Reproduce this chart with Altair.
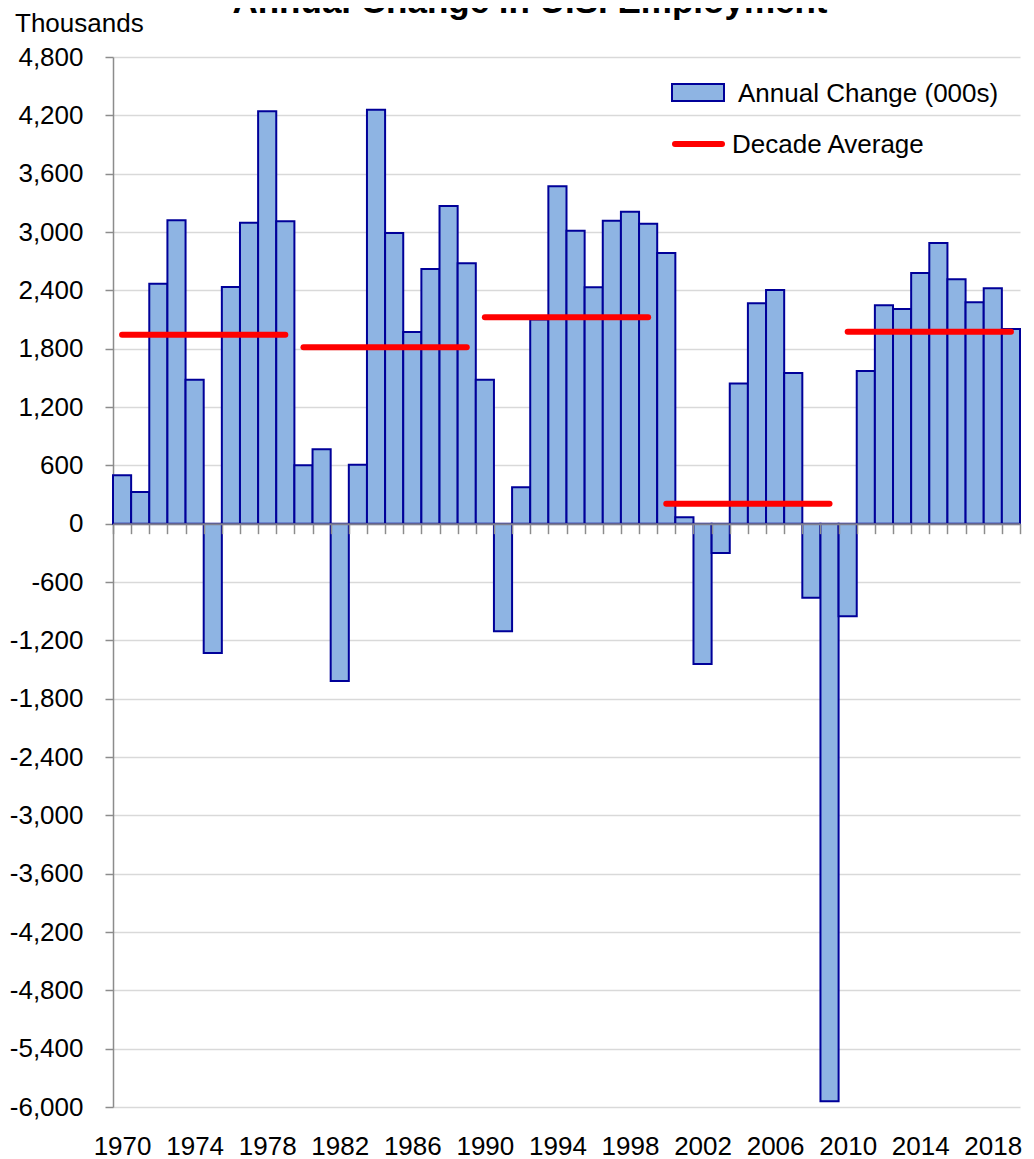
import altair as alt
import pandas as pd

# ---- data ----
years = list(range(1970, 2020))
changes = [497, 326, 2469, 3120, 1481, -1330, 2434, 3096, 4241, 3110,
           600, 765, -1618, 607, 4258, 2990, 1971, 2619, 3267, 2678,
           1481, -1107, 374, 2100, 3470, 3014, 2431, 3117, 3209, 3086,
           2784, 65, -1443, -302, 1443, 2266, 2403, 1550, -761, -5942,
           -953, 1570, 2246, 2208, 2578, 2887, 2513, 2277, 2421, 2002]

decade_start = [1970, 1980, 1990, 2000, 2010]
decade_end = [1979, 1989, 1999, 2009, 2019]
decade_avg = [1944, 1814, 2122, 204, 1973]

y_ticks = list(range(-6000, 4801, 600))
x_labels = list(range(1970, 2019, 4))
year_bounds = [y + 0.5 for y in range(1969, 2020)]

title_text = "Annual Change in U.S. Employment"
unit_text = "Thousands"
legend_bar = "Annual Change (000s)"
legend_line = "Decade Average"

FONT = "Liberation Sans"
W, H = 907, 1050
zero_from_bottom = H * 6000 / 10800

bars_df = pd.DataFrame({"year": years, "change": changes})
dec_df = pd.DataFrame({"start": decade_start, "end": decade_end, "avg": decade_avg})
one = pd.DataFrame({"k": [0]})

xs = alt.Scale(domain=[1969.5, 2019.5], nice=False, zero=False)
ys = alt.Scale(domain=[-6000, 4800], nice=False, zero=False)

bars = alt.Chart(bars_df).transform_calculate(
    x0="datum.year - 0.5", x1="datum.year + 0.5"
).mark_rect(fill="#8EB4E3", stroke="#000099", strokeWidth=2).encode(
    x=alt.X("x0:Q", scale=xs, axis=alt.Axis(
        values=x_labels, format="d", orient="bottom", title=None,
        ticks=False, domain=False, grid=False, tickSize=0,
        labelFont=FONT, labelFontSize=26, labelColor="black",
        labelPadding=47, labelBaseline="alphabetic",
        labelFlush=False, labelOverlap=False)),
    x2="x1:Q",
    y=alt.Y("change:Q", scale=ys, axis=alt.Axis(
        values=y_ticks, title=None, orient="left",
        labelExpr="(datum.value < 0 ? '-' : '') + format(abs(datum.value), ',')",
        labelFont=FONT, labelFontSize=26, labelColor="black", labelPadding=22,
        tickSize=8, tickColor="#8c8c8c", tickWidth=1.5,
        domainColor="#8c8c8c", domainWidth=1.5,
        grid=True, gridColor="#d9d9d9", gridWidth=1.5,
        labelOverlap=False, labelFlush=False)),
    y2=alt.datum(0),
)

avg_rules = alt.Chart(dec_df).mark_rule(color="#FF0000", strokeWidth=6, strokeCap="round").encode(
    x=alt.X("start:Q", scale=xs, axis=alt.Axis(
        values=year_bounds, labels=False, orient="bottom", title=None, grid=False,
        tickSize=10, tickColor="#8c8c8c", tickWidth=1.5,
        domainColor="#80808f", domainWidth=2, offset=-zero_from_bottom, zindex=1)),
    x2="end:Q",
    y=alt.Y("avg:Q", scale=ys, axis=None),
)

leg_rect = alt.Chart(one).mark_rect(fill="#8EB4E3", stroke="#000099", strokeWidth=2).encode(
    x=alt.value(559), x2=alt.value(611), y=alt.value(27), y2=alt.value(44))
leg_txt1 = alt.Chart(one).mark_text(text=legend_bar, font=FONT, fontSize=26, align="left",
                                    baseline="alphabetic", color="black").encode(
    x=alt.value(625), y=alt.value(45))
leg_line = alt.Chart(one).mark_rule(color="#FF0000", strokeWidth=6, strokeCap="round").encode(
    x=alt.value(562), x2=alt.value(609), y=alt.value(87))
leg_txt2 = alt.Chart(one).mark_text(text=legend_line, font=FONT, fontSize=26, align="left",
                                    baseline="alphabetic", color="black").encode(
    x=alt.value(619), y=alt.value(96))

title = alt.Chart(one).mark_text(text=title_text, font=FONT, fontSize=35, fontWeight="bold",
                                 align="center", baseline="alphabetic", color="black").encode(
    x=alt.value(417), y=alt.value(-44))
unit = alt.Chart(one).mark_text(text=unit_text, font=FONT, fontSize=26, align="left",
                                baseline="alphabetic", color="black").encode(
    x=alt.value(-98), y=alt.value(-25))

chart = alt.layer(bars, avg_rules, leg_rect, leg_txt1, leg_line, leg_txt2, title, unit).resolve_axis(
    x="independent", y="independent"
).properties(
    width=W, height=H,
    autosize=alt.AutoSizeParams(type="none"),
    padding={"left": 105, "top": 49, "right": 6, "bottom": 56},
).configure(font=FONT).configure_view(stroke=None)

chart.save("out.html", embed_options={"renderer": "svg", "actions": False})
